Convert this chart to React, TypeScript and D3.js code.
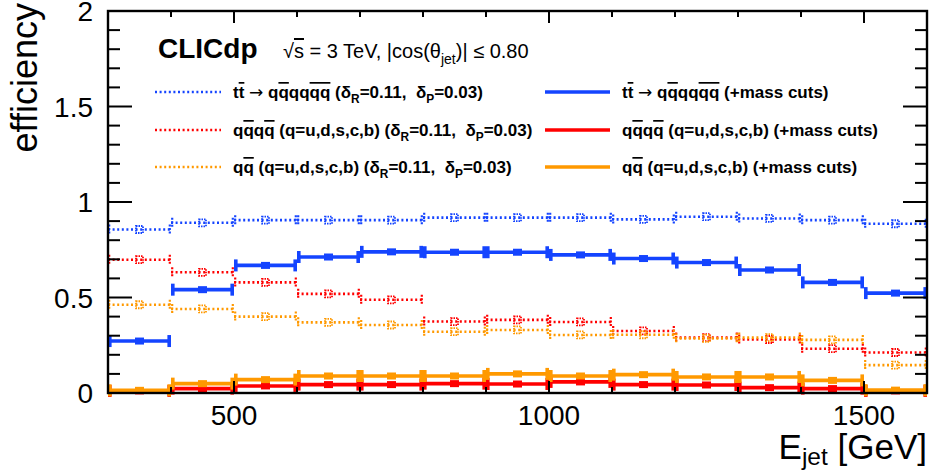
import React from 'react';
import * as d3 from 'd3';

// ---------------- data ----------------
const BIN_EDGES = [300, 400, 500, 600, 700, 800, 900, 1000, 1100, 1200, 1300, 1400, 1500, 1600];
const TT_DELTA = [0.856, 0.891, 0.905, 0.905, 0.905, 0.918, 0.918, 0.918, 0.909, 0.923, 0.914, 0.905, 0.886];
const TT_MASS = [0.272, 0.541, 0.668, 0.712, 0.739, 0.737, 0.737, 0.723, 0.704, 0.683, 0.644, 0.579, 0.523];
const QQQQ_DELTA = [0.698, 0.632, 0.579, 0.519, 0.488, 0.374, 0.383, 0.372, 0.325, 0.29, 0.28, 0.232, 0.212];
const QQQQ_MASS = [0.011, 0.023, 0.037, 0.044, 0.044, 0.049, 0.047, 0.058, 0.044, 0.042, 0.028, 0.023, 0.011];
const QQ_DELTA = [0.462, 0.44, 0.4, 0.37, 0.356, 0.321, 0.33, 0.304, 0.305, 0.286, 0.29, 0.278, 0.146];
const QQ_MASS = [0.014, 0.049, 0.07, 0.089, 0.089, 0.089, 0.1, 0.089, 0.096, 0.084, 0.084, 0.066, 0.015];

const X_TICKS = [500, 1000, 1500];
const X_TICK_LABELS = ['500', '1000', '1500'];
const Y_TICKS = [0, 0.5, 1, 1.5, 2];
const Y_TICK_LABELS = ['0', '0.5', '1', '1.5', '2'];

type Seg = { t: string; o?: boolean; s?: boolean; a?: boolean };

const LABEL_TT_DELTA: Seg[] = [
  { t: 't' }, { t: 't', o: true }, { t: ' ' }, { t: '\u2192', a: true }, { t: ' q' }, { t: 'q', o: true }, { t: 'qq' }, { t: 'qq', o: true },
  { t: ' (\u03b4' }, { t: 'R', s: true }, { t: '=0.11,  \u03b4' }, { t: 'P', s: true }, { t: '=0.03)' },
];
const LABEL_QQQQ_DELTA: Seg[] = [
  { t: 'q' }, { t: 'q', o: true }, { t: 'q' }, { t: 'q', o: true }, { t: ' (q=u,d,s,c,b) (\u03b4' }, { t: 'R', s: true },
  { t: '=0.11,  \u03b4' }, { t: 'P', s: true }, { t: '=0.03)' },
];
const LABEL_QQ_DELTA: Seg[] = [
  { t: 'q' }, { t: 'q', o: true }, { t: ' (q=u,d,s,c,b) (\u03b4' }, { t: 'R', s: true },
  { t: '=0.11,  \u03b4' }, { t: 'P', s: true }, { t: '=0.03)' },
];
const LABEL_TT_MASS: Seg[] = [
  { t: 't' }, { t: 't', o: true }, { t: ' ' }, { t: '\u2192', a: true }, { t: ' q' }, { t: 'q', o: true }, { t: 'qq' }, { t: 'qq', o: true }, { t: ' (+mass cuts)' },
];
const LABEL_QQQQ_MASS: Seg[] = [
  { t: 'q' }, { t: 'q', o: true }, { t: 'q' }, { t: 'q', o: true }, { t: ' (q=u,d,s,c,b) (+mass cuts)' },
];
const LABEL_QQ_MASS: Seg[] = [
  { t: 'q' }, { t: 'q', o: true }, { t: ' (q=u,d,s,c,b) (+mass cuts)' },
];
const HEADER: Seg[] = [
  { t: '\u221a' }, { t: 's', o: true }, { t: ' = 3 TeV, |cos(\u03b8' }, { t: 'jet', s: true }, { t: ')| \u2264 0.80' },
];
const X_TITLE: Seg[] = [{ t: 'E' }, { t: 'jet', s: true }, { t: ' [GeV]' }];

// ---------------- styles ----------------
const BLUE = '#1444ff';
const RED = '#ff0000';
const ORANGE = '#ff9900';
const FONT = "'Liberation Sans', Arial, Helvetica, sans-serif";

const W = 929;
const H = 473;
const L = 108, R = 927, T = 11, B = 393;

const x = d3.scaleLinear().domain([300, 1600]).range([L, R]);
const y = d3.scaleLinear().domain([0, 2]).range([B, T]);

function RichText(props: { x: number; y: number; segs: Seg[]; size: number; weight?: string; anchor?: string; transform?: string; subShift?: number }) {
  const { segs, size } = props;
  let inSub = false;
  const sh = size * (props.subShift ?? 0.3);
  return (
    <text x={props.x} y={props.y} fontSize={size} fontFamily={FONT} fontWeight={props.weight || 'normal'}
      textAnchor={props.anchor || 'start'} transform={props.transform} fill="#000">
      {segs.map((sg, i) => {
        let dy = 0;
        if (sg.s && !inSub) { dy = sh; inSub = true; }
        else if (!sg.s && inSub) { dy = -sh; inSub = false; }
        return (
          <tspan key={i} dy={dy} fontSize={sg.s ? size * 0.7 : size}
            fontFamily={sg.a ? "'DejaVu Sans', sans-serif" : undefined}
            fontWeight={sg.a ? 'normal' : undefined}
            style={sg.o ? { textDecoration: 'overline' } : undefined} xmlSpace="preserve">{sg.t}</tspan>
        );
      })}
    </text>
  );
}

function DottedSeries({ values, color }: { values: number[]; color: string }) {
  return (
    <g>
      {values.map((v, i) => {
        const x0 = x(BIN_EDGES[i]);
        const x1 = x(BIN_EDGES[i + 1]);
        const yy = y(v);
        const xc = (x0 + x1) / 2;
        return (
          <g key={i}>
            <line x1={x0} x2={x1} y1={yy} y2={yy} stroke={color} strokeWidth={2.6} strokeDasharray="2 2.6" />
            <line x1={x0 + 1.2} x2={x0 + 1.2} y1={yy - 5} y2={yy + 5} stroke={color} strokeWidth={2.2} strokeDasharray="2 1.5" />
            <line x1={x1 - 1.2} x2={x1 - 1.2} y1={yy - 5} y2={yy + 5} stroke={color} strokeWidth={2.2} strokeDasharray="2 1.5" />
            <rect x={xc - 3.5} y={yy - 3.5} width={7} height={7} fill="none" stroke={color} strokeWidth={1.8} strokeDasharray="1.5 1" />
          </g>
        );
      })}
    </g>
  );
}

function SolidSeries({ values, color }: { values: number[]; color: string }) {
  return (
    <g>
      {values.map((v, i) => {
        const x0 = x(BIN_EDGES[i]);
        const x1 = x(BIN_EDGES[i + 1]);
        const yy = y(v);
        const xc = (x0 + x1) / 2;
        return (
          <g key={i}>
            <line x1={x0} x2={x1} y1={yy} y2={yy} stroke={color} strokeWidth={3.6} />
            <rect x={x0} y={yy - 6} width={3.6} height={12} fill={color} />
            <rect x={x1 - 3.6} y={yy - 6} width={3.6} height={12} fill={color} />
            <rect x={xc - 4.5} y={yy - 3.5} width={9} height={7} fill={color} />
          </g>
        );
      })}
    </g>
  );
}

export default function App() {
  const xMinor = d3.range(400, 1600, 100);
  const yMinor = d3.range(1, 20).map((k) => k / 10);
  const legendRows = [92, 130, 167];
  return (
    <svg width={W} height={H} style={{ position: 'absolute', left: 0, top: 0, background: '#fff' }}>
      <rect x={0} y={0} width={W} height={H} fill="#fff" />
      {/* data */}
      <DottedSeries values={TT_DELTA} color={BLUE} />
      <DottedSeries values={QQQQ_DELTA} color={RED} />
      <DottedSeries values={QQ_DELTA} color={ORANGE} />
      <SolidSeries values={TT_MASS} color={BLUE} />
      <SolidSeries values={QQQQ_MASS} color={RED} />
      <SolidSeries values={QQ_MASS} color={ORANGE} />

      {/* frame */}
      <rect x={L} y={T} width={R - L} height={B - T} fill="none" stroke="#000" strokeWidth={2.4} />
      {xMinor.map((v) => {
        const major = v % 500 === 0;
        const len = major ? 12 : 6;
        return (
          <g key={'xt' + v}>
            <line x1={x(v)} x2={x(v)} y1={B} y2={B - len} stroke="#000" strokeWidth={2} />
            <line x1={x(v)} x2={x(v)} y1={T} y2={T + len} stroke="#000" strokeWidth={2} />
          </g>
        );
      })}
      {yMinor.map((v) => {
        const major = Math.abs(v * 2 - Math.round(v * 2)) < 1e-6;
        const len = major ? 24 : 12;
        return (
          <g key={'yt' + v}>
            <line x1={L} x2={L + len} y1={y(v)} y2={y(v)} stroke="#000" strokeWidth={2} />
            <line x1={R} x2={R - len} y1={y(v)} y2={y(v)} stroke="#000" strokeWidth={2} />
          </g>
        );
      })}

      {/* tick labels */}
      {X_TICKS.map((v, i) => (
        <text key={'xl' + v} x={x(v)} y={425} fontSize={28} fontFamily={FONT} textAnchor="middle" fill="#000">{X_TICK_LABELS[i]}</text>
      ))}
      {Y_TICKS.map((v, i) => (
        <text key={'yl' + v} x={93} y={y(v) + 10} fontSize={28} fontFamily={FONT} textAnchor="end" fill="#000">{Y_TICK_LABELS[i]}</text>
      ))}

      {/* axis titles */}
      <RichText x={927} y={459} segs={X_TITLE} size={35} anchor="end" subShift={0.18} />
      <text x={0} y={0} transform="translate(37,3) rotate(-90)" fontSize={36} fontFamily={FONT} textAnchor="end" fill="#000">efficiency</text>

      {/* header */}
      <text x={158} y={58} fontSize={28} fontWeight="bold" fontFamily={FONT} fill="#000">CLICdp</text>
      <RichText x={283} y={58} segs={HEADER} size={20} />

      {/* legend */}
      {[
        { segs: LABEL_TT_DELTA, color: BLUE, dotted: true, col: 0, row: 0 },
        { segs: LABEL_QQQQ_DELTA, color: RED, dotted: true, col: 0, row: 1 },
        { segs: LABEL_QQ_DELTA, color: ORANGE, dotted: true, col: 0, row: 2 },
        { segs: LABEL_TT_MASS, color: BLUE, dotted: false, col: 1, row: 0 },
        { segs: LABEL_QQQQ_MASS, color: RED, dotted: false, col: 1, row: 1 },
        { segs: LABEL_QQ_MASS, color: ORANGE, dotted: false, col: 1, row: 2 },
      ].map((e, i) => {
        const lx0 = e.col === 0 ? 155 : 545;
        const lx1 = e.col === 0 ? 221 : 610;
        const tx = e.col === 0 ? 233 : 622;
        const ly = legendRows[e.row];
        return (
          <g key={'lg' + i}>
            <line x1={lx0} x2={lx1} y1={ly} y2={ly} stroke={e.color} strokeWidth={e.dotted ? 2.6 : 3.6}
              strokeDasharray={e.dotted ? '2 2.6' : undefined} />
            <RichText x={tx} y={ly + 6} segs={e.segs} size={17} weight="bold" />
          </g>
        );
      })}
    </svg>
  );
}
